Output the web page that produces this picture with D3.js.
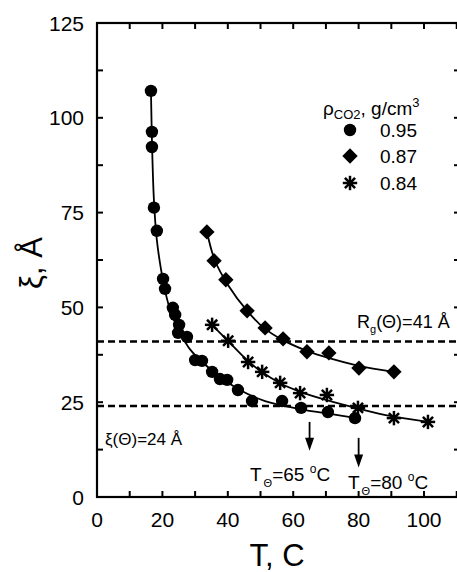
<!DOCTYPE html>
<html>
<head>
<meta charset="utf-8">
<script src="https://cdn.jsdelivr.net/npm/d3@7"></script>
<style>
  html, body { margin: 0; padding: 0; background: #fff; }
  svg { display: block; font-family: "Liberation Sans", Arial, Helvetica, sans-serif; }
</style>
</head>
<body>
<svg id="chart" width="457" height="572"></svg>
<script>
// Correlation length ξ vs temperature T for three CO2 densities
const densities = ["0.95", "0.87", "0.84"];

// ρ = 0.95 g/cm³ (circles)
const tempA = [16.5, 16.8, 16.8, 17.4, 18.3, 20.2, 20.8, 23.2, 23.9, 25.1, 24.8, 27.5, 30.0, 32.1, 35.2, 37.6, 39.8, 43.1, 47.4, 56.6, 62.4, 70.6, 78.9];
const xiA   = [107.1, 96.3, 92.3, 76.3, 70.2, 57.5, 54.9, 49.9, 48.0, 45.4, 43.3, 42.2, 36.1, 35.9, 33.0, 31.1, 30.9, 28.2, 25.3, 25.3, 23.5, 22.4, 20.8];
// ρ = 0.87 g/cm³ (diamonds)
const tempB = [33.6, 35.8, 39.4, 45.9, 51.4, 56.9, 64.2, 70.9, 80.1, 90.8];
const xiB   = [69.9, 62.3, 57.3, 49.1, 44.6, 41.7, 38.3, 38.0, 34.0, 33.0];
// ρ = 0.84 g/cm³ (asterisks)
const tempC = [35.2, 40.1, 46.2, 50.5, 56.0, 62.1, 70.3, 79.8, 90.8, 101.2];
const xiC   = [45.4, 41.2, 35.6, 33.0, 30.1, 27.4, 26.9, 23.5, 20.8, 19.8];

// Smooth guide curves through each data set
const fitTA  = [16.5, 16.8, 17.4, 18.3, 19.6, 21.1, 22.9, 25.4, 28.4, 32.4, 37.6, 43.7, 51.4, 62.1, 71.3, 79.5];
const fitXiA = [107.1, 94.2, 78.4, 67.8, 59.9, 53.3, 48.0, 43.3, 39.0, 35.4, 31.7, 28.2, 25.3, 23.2, 21.9, 20.8];
const fitTB  = [33.6, 36.0, 40.0, 46.0, 51.0, 57.0, 64.0, 71.0, 80.0, 90.8];
const fitXiB = [70.0, 62.5, 56.0, 49.0, 44.6, 41.3, 38.6, 36.6, 34.6, 33.0];
const fitTC  = [35.2, 40.0, 46.0, 50.0, 56.0, 62.0, 70.0, 80.0, 90.0, 101.2];
const fitXiC = [45.4, 41.2, 36.0, 33.2, 30.0, 27.8, 25.6, 23.3, 21.3, 19.8];

// Reference levels and θ temperatures
const rgTheta = 41;
const xiTheta = 24;
const thetaTemps = [65, 80];

const xTicks = [0, 20, 40, 60, 80, 100];
const xMinor = [10, 30, 50, 70, 90, 110];
const yTicks = [0, 25, 50, 75, 100, 125];
const yMinor = [12.5, 37.5, 62.5, 87.5, 112.5];

const svg = d3.select("#chart");
const plotL = 97, plotR = 460, plotT = 23, plotB = 497;

const x = d3.scaleLinear().domain([0, 111]).range([plotL, plotR]);
const y = d3.scaleLinear().domain([0, 125]).range([plotB, plotT]);

// Frame
svg.append("rect")
  .attr("x", plotL).attr("y", plotT)
  .attr("width", plotR - plotL).attr("height", plotB - plotT)
  .attr("fill", "none").attr("stroke", "#000").attr("stroke-width", 2.2);

// Inward ticks on all four sides
const tickG = svg.append("g").attr("stroke", "#000").attr("stroke-width", 2);
xTicks.concat(xMinor).forEach(t => {
  tickG.append("line").attr("x1", x(t)).attr("x2", x(t)).attr("y1", plotB).attr("y2", plotB - 6);
  tickG.append("line").attr("x1", x(t)).attr("x2", x(t)).attr("y1", plotT).attr("y2", plotT + 6);
});
yTicks.concat(yMinor).forEach(v => {
  tickG.append("line").attr("x1", plotL).attr("x2", plotL + 6).attr("y1", y(v)).attr("y2", y(v));
  tickG.append("line").attr("x1", plotR).attr("x2", plotR - 6).attr("y1", y(v)).attr("y2", y(v));
});

// Tick labels
svg.append("g").selectAll("text").data(xTicks).join("text")
  .attr("x", d => x(d)).attr("y", 527)
  .attr("text-anchor", "middle").attr("font-size", 21)
  .text(d => d);
svg.append("g").selectAll("text").data(yTicks).join("text")
  .attr("x", 84).attr("y", d => y(d)).attr("dy", "0.36em")
  .attr("text-anchor", "end").attr("font-size", 21)
  .text(d => d);

// Axis titles
svg.append("text").attr("x", 277).attr("y", 566)
  .attr("text-anchor", "middle").attr("font-size", 31).text("T, C");
svg.append("text").attr("transform", "translate(42,263) rotate(-90)")
  .attr("text-anchor", "middle").attr("font-size", 31).text("ξ, Å");

// Dashed reference levels
[rgTheta, xiTheta].forEach(v => {
  svg.append("line")
    .attr("x1", plotL).attr("x2", plotR)
    .attr("y1", y(v)).attr("y2", y(v))
    .attr("stroke", "#000").attr("stroke-width", 2.4)
    .attr("stroke-dasharray", "7,4");
});

// Guide curves
const line = d3.line().x(d => x(d[0])).y(d => y(d[1])).curve(d3.curveCatmullRom.alpha(0.5));
[[fitTA, fitXiA], [fitTB, fitXiB], [fitTC, fitXiC]].forEach(([ts, xs]) => {
  svg.append("path")
    .datum(ts.map((t, i) => [t, xs[i]]))
    .attr("d", line)
    .attr("fill", "none").attr("stroke", "#000").attr("stroke-width", 1.8);
});

// Marker drawing
function drawMarker(g, kind, cx, cy) {
  if (kind === 0) {
    g.append("circle").attr("cx", cx).attr("cy", cy).attr("r", 6.2).attr("fill", "#000");
  } else if (kind === 1) {
    g.append("path")
      .attr("d", d3.symbol().type(d3.symbolSquare).size(118)())
      .attr("transform", `translate(${cx},${cy}) rotate(45)`)
      .attr("fill", "#000");
  } else {
    const r = 7.2;
    const sg = g.append("g").attr("transform", `translate(${cx},${cy})`)
      .attr("stroke", "#000").attr("stroke-width", 2.5).attr("stroke-linecap", "butt");
    [0, 45, 90, 135].forEach(a => {
      const rad = a * Math.PI / 180;
      sg.append("line")
        .attr("x1", -r * Math.cos(rad)).attr("y1", -r * Math.sin(rad))
        .attr("x2", r * Math.cos(rad)).attr("y2", r * Math.sin(rad));
    });
    sg.append("circle").attr("r", 3).attr("fill", "#000").attr("stroke", "none");
  }
}

const markG = svg.append("g");
[[tempA, xiA], [tempB, xiB], [tempC, xiC]].forEach(([ts, xs], k) => {
  ts.forEach((t, i) => drawMarker(markG, k, x(t), y(xs[i])));
});

// Legend
const lg = svg.append("g");
const title = lg.append("text").attr("x", 323).attr("y", 115).attr("font-size", 19);
title.append("tspan").text("ρ");
title.append("tspan").attr("font-size", 13).attr("dy", 4).text("CO2");
title.append("tspan").attr("dy", -4).text(", g/cm");
title.append("tspan").attr("font-size", 13).attr("dy", -8).text("3");
const legendY = [130, 156, 183];
densities.forEach((d, k) => {
  drawMarker(lg, k, 350, legendY[k]);
  lg.append("text").attr("x", 380).attr("y", legendY[k]).attr("dy", "0.36em")
    .attr("font-size", 19).text(d);
});

// Level annotations
const rgLabel = svg.append("text").attr("x", 357).attr("y", 328).attr("font-size", 18);
rgLabel.append("tspan").text("R");
rgLabel.append("tspan").attr("font-size", 11).attr("dy", 5).text("g");
rgLabel.append("tspan").attr("dy", -5).text(`(Θ)=${rgTheta} Å`);

svg.append("text").attr("x", 105).attr("y", 445).attr("font-size", 17)
  .text(`ξ(Θ)=${xiTheta} Å`);

// θ-temperature arrows and labels
const arrowSpans = [[19.8, 12.2], [15.6, 7.8]];
const labelPos = [[250, 481], [348, 489]];
thetaTemps.forEach((t, i) => {
  const ax = x(t);
  const y0 = y(arrowSpans[i][0]), y1 = y(arrowSpans[i][1]);
  svg.append("line").attr("x1", ax).attr("x2", ax).attr("y1", y0).attr("y2", y1 - 12)
    .attr("stroke", "#000").attr("stroke-width", 1.8);
  svg.append("path")
    .attr("d", `M${ax - 4.5},${y1 - 13} L${ax + 4.5},${y1 - 13} L${ax},${y1} Z`)
    .attr("fill", "#000");
  const lab = svg.append("text").attr("x", labelPos[i][0]).attr("y", labelPos[i][1]).attr("font-size", 19);
  lab.append("tspan").text("T");
  lab.append("tspan").attr("font-size", 11).attr("dx", 2).attr("dy", 6).text("Θ");
  lab.append("tspan").attr("dy", -6).text(`=${t} `);
  lab.append("tspan").attr("font-size", 12).attr("dy", -8).text("o");
  lab.append("tspan").attr("dy", 8).text("C");
});
</script>
</body>
</html>
